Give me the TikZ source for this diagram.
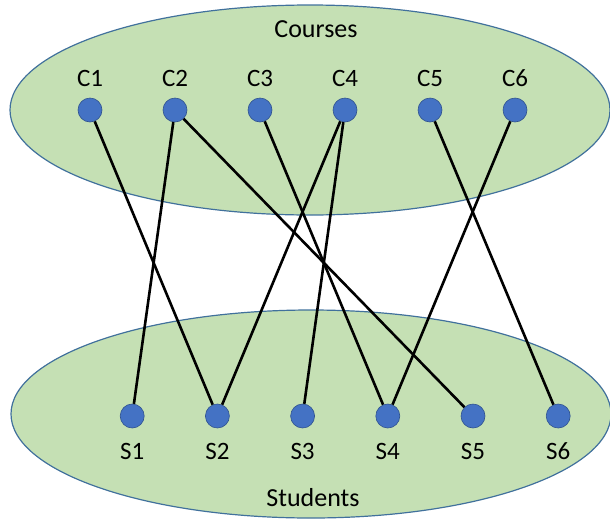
\documentclass[tikz,border=0pt]{standalone}
\usepackage{fontspec}
\setmainfont{Carlito}
\definecolor{setgreen}{HTML}{C5E0B4}
\definecolor{setline}{HTML}{41719C}
\definecolor{dotfill}{HTML}{4472C4}
\definecolor{dotline}{HTML}{2F528F}
\tikzset{
  vertex/.style={circle, fill=dotfill, draw=dotline, line width=0.6pt, minimum size=24pt, inner sep=0pt},
  tag/.style={font=\fontsize{25}{29}\selectfont, inner sep=0pt},
  title/.style={font=\fontsize{26}{30}\selectfont, inner sep=0pt},
  setshape/.style={fill=setgreen, draw=setline, line width=1.2pt},
  link/.style={line width=2.6pt, black}
}
\begin{document}
\begin{tikzpicture}[x=1pt,y=-1pt]
    \useasboundingbox (0,0) rectangle (610,520);

    % the two sets
    \draw[setshape] (310,110) ellipse [x radius=300pt, y radius=105pt];
    \draw[setshape] (311,414) ellipse [x radius=300pt, y radius=104pt];
    \node[title] (courses) at (316,29) {Courses};
    \node[title] (students) at (313,498) {Students};

    % vertices and their names
    \foreach \i in {1,...,6} {
        \node[vertex] (c\i) at ({5+85*\i},110) {};
        \node[tag] (lc\i) at ({5+85*\i},78) {C\i};
        \node[vertex] (s\i) at ({47+85.2*\i},416) {};
        \node[tag] (ls\i) at ({47+85.2*\i},451) {S\i};
    }

    % course -- student links
    \foreach \a/\b in {1/2, 2/1, 2/5, 3/4, 4/2, 4/3, 5/6, 6/4}
        \draw[link] (c\a) -- (s\b);
\end{tikzpicture}
\end{document}
